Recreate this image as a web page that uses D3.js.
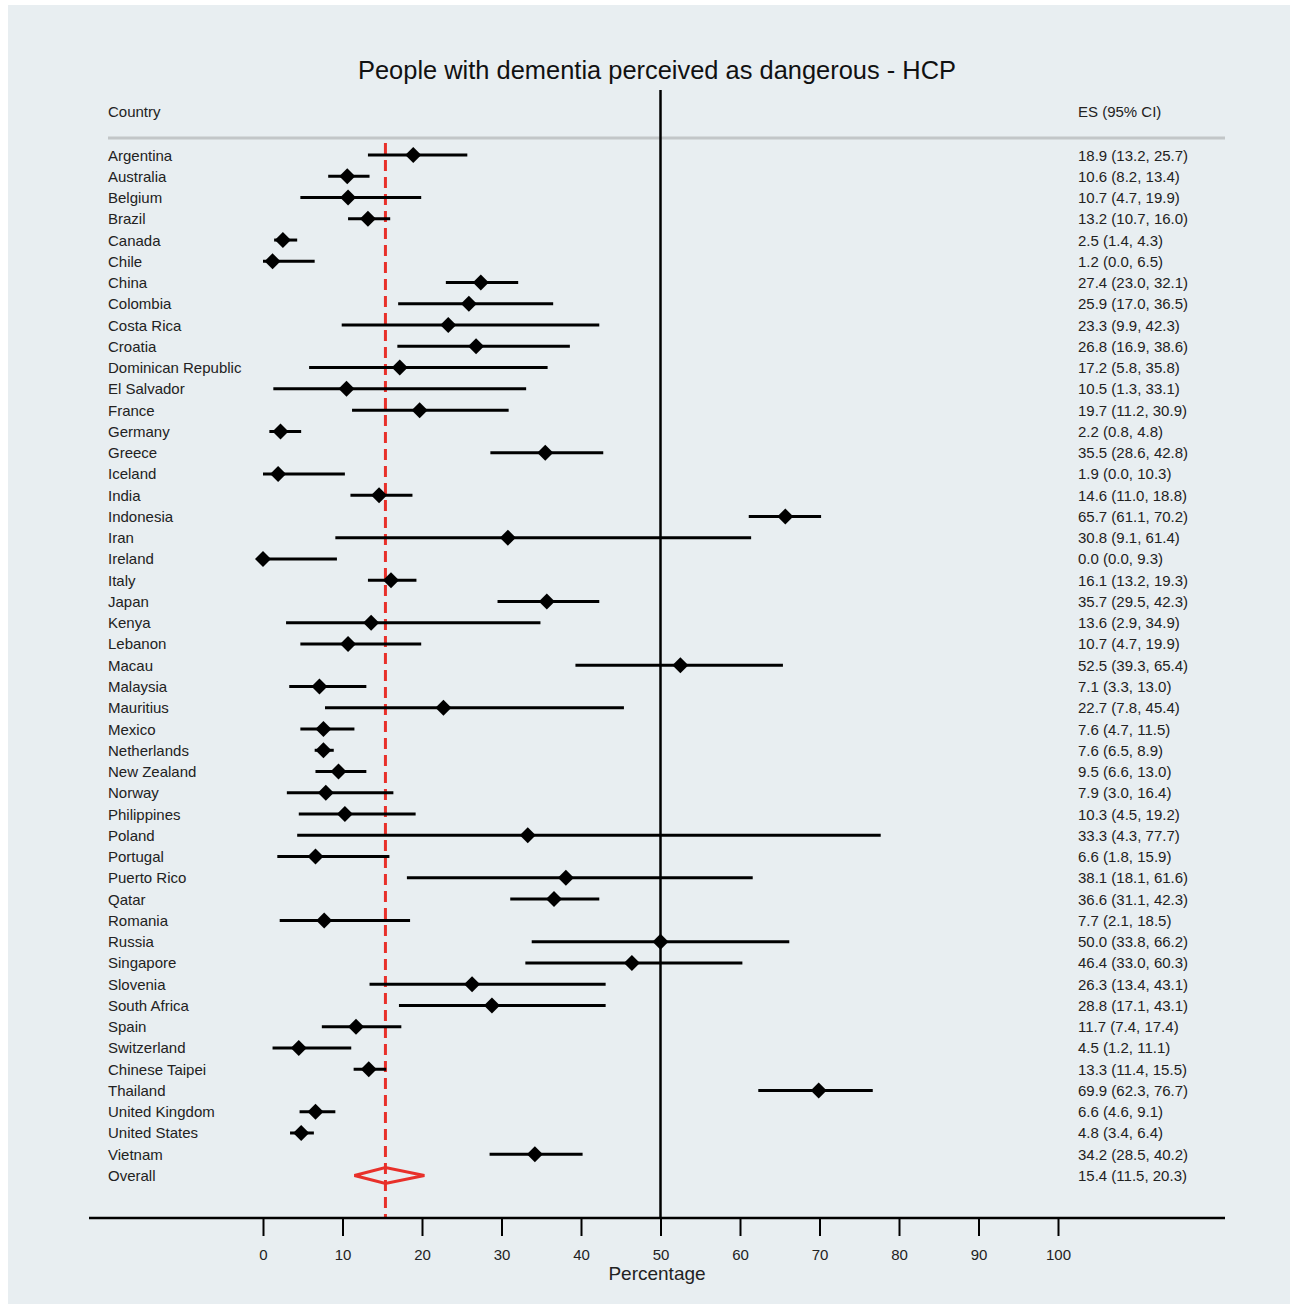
<!DOCTYPE html>
<html>
<head>
<meta charset="utf-8">
<script src="https://cdn.jsdelivr.net/npm/d3@7"></script>
<style>
  html, body { margin: 0; padding: 0; background: #ffffff; }
  svg { display: block; font-family: "Liberation Sans", Arial, sans-serif; }
</style>
</head>
<body>
<svg id="chart" width="1296" height="1309"></svg>
<script>
'use strict';

// Forest plot: people with dementia perceived as dangerous (HCP)

const countries = ['Argentina', 'Australia', 'Belgium', 'Brazil', 'Canada', 'Chile', 'China',
	'Colombia', 'Costa Rica', 'Croatia', 'Dominican Republic', 'El Salvador', 'France', 'Germany',
	'Greece', 'Iceland', 'India', 'Indonesia', 'Iran', 'Ireland', 'Italy', 'Japan', 'Kenya',
	'Lebanon', 'Macau', 'Malaysia', 'Mauritius', 'Mexico', 'Netherlands', 'New Zealand', 'Norway',
	'Philippines', 'Poland', 'Portugal', 'Puerto Rico', 'Qatar', 'Romania', 'Russia', 'Singapore',
	'Slovenia', 'South Africa', 'Spain', 'Switzerland', 'Chinese Taipei', 'Thailand',
	'United Kingdom', 'United States', 'Vietnam'];

const estimate = [18.9, 10.6, 10.7, 13.2, 2.5, 1.2, 27.4, 25.9, 23.3, 26.8, 17.2, 10.5, 19.7, 2.2,
	35.5, 1.9, 14.6, 65.7, 30.8, 0.0, 16.1, 35.7, 13.6, 10.7, 52.5, 7.1, 22.7, 7.6, 7.6, 9.5, 7.9,
	10.3, 33.3, 6.6, 38.1, 36.6, 7.7, 50.0, 46.4, 26.3, 28.8, 11.7, 4.5, 13.3, 69.9, 6.6, 4.8, 34.2];

const lower = [13.2, 8.2, 4.7, 10.7, 1.4, 0.0, 23.0, 17.0, 9.9, 16.9, 5.8, 1.3, 11.2, 0.8,
	28.6, 0.0, 11.0, 61.1, 9.1, 0.0, 13.2, 29.5, 2.9, 4.7, 39.3, 3.3, 7.8, 4.7, 6.5, 6.6, 3.0,
	4.5, 4.3, 1.8, 18.1, 31.1, 2.1, 33.8, 33.0, 13.4, 17.1, 7.4, 1.2, 11.4, 62.3, 4.6, 3.4, 28.5];

const upper = [25.7, 13.4, 19.9, 16.0, 4.3, 6.5, 32.1, 36.5, 42.3, 38.6, 35.8, 33.1, 30.9, 4.8,
	42.8, 10.3, 18.8, 70.2, 61.4, 9.3, 19.3, 42.3, 34.9, 19.9, 65.4, 13.0, 45.4, 11.5, 8.9, 13.0, 16.4,
	19.2, 77.7, 15.9, 61.6, 42.3, 18.5, 66.2, 60.3, 43.1, 43.1, 17.4, 11.1, 15.5, 76.7, 9.1, 6.4, 40.2];

const overall = { label: 'Overall', es: 15.4, lo: 11.5, hi: 20.3 };
const xTicks = [0, 10, 20, 30, 40, 50, 60, 70, 80, 90, 100];

const W = 1296, H = 1309;
const svg = d3.select('#chart');

// panel background
svg.append('rect').attr('x', 8).attr('y', 5).attr('width', W - 14).attr('height', H - 10)
	.attr('fill', '#e8eef1');

const x = d3.scaleLinear().domain([0, 100]).range([263, 1058]);
const rowNames = countries.concat([overall.label]);
const y = d3.scalePoint().domain(rowNames).range([155, 1175.5]);

const axisY = 1218;

// title
svg.append('text').attr('x', 657).attr('y', 79).attr('text-anchor', 'middle')
	.attr('font-size', 25.5).attr('fill', '#111')
	.attr('textLength', 598).attr('lengthAdjust', 'spacingAndGlyphs')
	.text('People with dementia perceived as dangerous - HCP');

// column headers
svg.append('text').attr('x', 108).attr('y', 117).attr('font-size', 15).attr('fill', '#222').text('Country');
svg.append('text').attr('x', 1078).attr('y', 117).attr('font-size', 15).attr('fill', '#222').text('ES (95% CI)');

// header separator
svg.append('line').attr('x1', 108).attr('x2', 1225).attr('y1', 138).attr('y2', 138)
	.attr('stroke', '#c2c6c8').attr('stroke-width', 3);

// null line at 50
svg.append('line').attr('x1', x(50)).attr('x2', x(50)).attr('y1', 90).attr('y2', axisY)
	.attr('stroke', '#000').attr('stroke-width', 2.5);

// pooled estimate line
svg.append('line').attr('x1', x(overall.es)).attr('x2', x(overall.es)).attr('y1', 143).attr('y2', axisY)
	.attr('stroke', '#e8302a').attr('stroke-width', 3).attr('stroke-dasharray', '11,6');

// study rows
const rows = svg.append('g').selectAll('g').data(countries).join('g');

rows.append('line')
	.attr('x1', (d, i) => x(lower[i])).attr('x2', (d, i) => x(upper[i]))
	.attr('y1', d => y(d)).attr('y2', d => y(d))
	.attr('stroke', '#000').attr('stroke-width', 3);

rows.append('path')
	.attr('d', (d, i) => {
		const cx = x(estimate[i]), cy = y(d), r = 8;
		return `M${cx - r},${cy}L${cx},${cy - r}L${cx + r},${cy}L${cx},${cy + r}Z`;
	})
	.attr('fill', '#000');

// labels
svg.append('g').selectAll('text').data(rowNames).join('text')
	.attr('x', 108).attr('y', d => y(d) + 5.5).attr('font-size', 15).attr('fill', '#222')
	.text(d => d);

const esText = estimate.map((e, i) => `${e.toFixed(1)} (${lower[i].toFixed(1)}, ${upper[i].toFixed(1)})`)
	.concat([`${overall.es.toFixed(1)} (${overall.lo.toFixed(1)}, ${overall.hi.toFixed(1)})`]);
svg.append('g').selectAll('text').data(rowNames).join('text')
	.attr('x', 1078).attr('y', d => y(d) + 5.5).attr('font-size', 15).attr('fill', '#222')
	.text((d, i) => esText[i]);

// overall diamond
{
	const cy = y(overall.label), h = 8;
	svg.append('path')
		.attr('d', `M${x(overall.lo)},${cy}L${x(overall.es)},${cy - h}L${x(overall.hi)},${cy}L${x(overall.es)},${cy + h}Z`)
		.attr('fill', 'none').attr('stroke', '#e8302a').attr('stroke-width', 3).attr('stroke-linejoin', 'miter');
}

// x axis
svg.append('line').attr('x1', 89).attr('x2', 1225).attr('y1', axisY).attr('y2', axisY)
	.attr('stroke', '#000').attr('stroke-width', 2.5);

const axis = d3.axisBottom(x).tickValues(xTicks).tickSize(18).tickPadding(13).tickFormat(d3.format('d'));
const ax = svg.append('g').attr('transform', `translate(0,${axisY})`).call(axis);
ax.select('.domain').remove();
ax.selectAll('.tick line').attr('stroke', '#000').attr('stroke-width', 2);
ax.selectAll('.tick text').attr('font-size', 15).attr('fill', '#222')
	.attr('font-family', '"Liberation Sans", Arial, sans-serif');

svg.append('text').attr('x', 657).attr('y', 1280).attr('text-anchor', 'middle')
	.attr('font-size', 19).attr('fill', '#222').text('Percentage');
</script>
</body>
</html>
